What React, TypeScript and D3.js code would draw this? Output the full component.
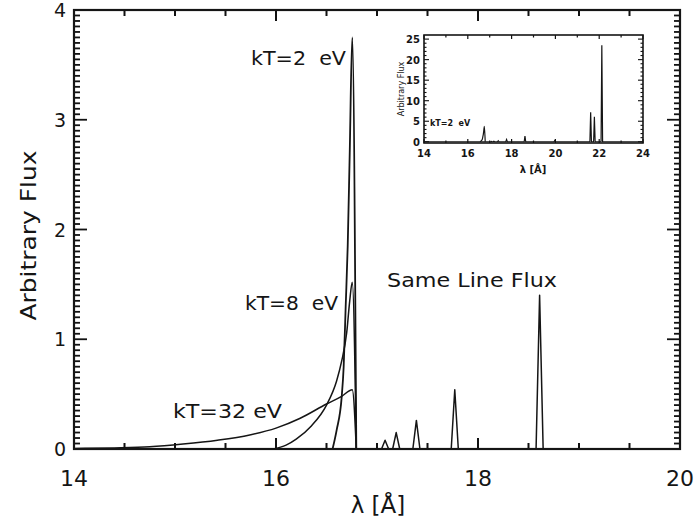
import React, { useEffect } from "react";
import * as d3 from "d3";

// Emission lines of the "same line flux" spectrum (wavelength in Å, peak flux)
const lineCenters = [17.08, 17.19, 17.39, 17.77, 18.61];
const lineHeights = [0.08, 0.15, 0.26, 0.54, 1.4];

// Extra lines only visible in the wide-range inset
const insetLineCenters = [19.97, 21.61, 21.78, 22.12];
const insetLineHeights = [0.3, 7.2, 6.1, 23.5];

// Recombination continua for three temperatures
const rrc2Lambda = [16.56, 16.6, 16.65, 16.67, 16.69, 16.71, 16.73, 16.755, 16.795];
const rrc2Flux = [0, 0.17, 0.47, 0.75, 1.3, 1.85, 2.7, 3.75, 0];

const rrc8Lambda = [15.97, 16.1, 16.2, 16.35, 16.5, 16.6, 16.65, 16.7, 16.73, 16.755, 16.795];
const rrc8Flux = [0, 0.035, 0.09, 0.21, 0.4, 0.62, 0.8, 1.06, 1.35, 1.52, 0];

const rrc32Lambda = [14.0, 14.4, 14.75, 15.08, 15.42, 15.74, 16.0, 16.24, 16.5, 16.65, 16.755, 16.795];
const rrc32Flux = [0.005, 0.01, 0.02, 0.045, 0.08, 0.128, 0.19, 0.28, 0.41, 0.48, 0.54, 0];

// Axis ticks
const xMajorTicks = [14, 16, 18, 20];
const yMajorTicks = [0, 1, 2, 3, 4];
const insetXTicks = [14, 16, 18, 20, 22, 24];
const insetYTicks = [0, 5, 10, 15, 20, 25];

const LINE_HALF_WIDTH = 0.035;
const INK = "#151515";
const FONT = "'DejaVu Sans', 'Liberation Sans', sans-serif";

function lineSpectrum(centers: number[], heights: number[], lo: number, hi: number) {
  const order = d3.range(centers.length).sort((a, b) => centers[a] - centers[b]);
  const pts: [number, number][] = [[lo, 0]];
  order.forEach((i) => {
    const c = centers[i];
    pts.push([c - LINE_HALF_WIDTH, 0], [c, heights[i]], [c + LINE_HALF_WIDTH, 0]);
  });
  pts.push([hi, 0]);
  return pts;
}

function zipPts(xs: number[], ys: number[]): [number, number][] {
  return xs.map((x, i) => [x, ys[i]]);
}

// tick marks drawn as small filled bars
type Bar = { x: number; y: number; w: number; h: number };
function vTick(px: number, y0: number, len: number, w: number): Bar {
  return { x: px - w / 2, y: len > 0 ? y0 : y0 + len, w, h: Math.abs(len) };
}
function hTick(py: number, x0: number, len: number, w: number): Bar {
  return { x: len > 0 ? x0 : x0 + len, y: py - w / 2, w: Math.abs(len), h: w };
}

export default function App() {
  useEffect(() => {
    document.body.style.margin = "0";
  }, []);

  const W = 694;
  const H = 522;
  const m = { left: 74, right: 680, top: 10, bottom: 449 };

  const x = d3.scaleLinear().domain([14, 20]).range([m.left, m.right]);
  const y = d3.scaleLinear().domain([0, 4]).range([m.bottom, m.top]);

  const lineGen = d3
    .line<[number, number]>()
    .x((d) => x(d[0]))
    .y((d) => y(d[1]));
  const smoothGen = d3
    .line<[number, number]>()
    .x((d) => x(d[0]))
    .y((d) => y(d[1]))
    .curve(d3.curveMonotoneX);

  const spectrum = lineSpectrum(lineCenters, lineHeights, 14, 20);

  const bars: Bar[] = [];
  d3.range(14, 20.001, 0.5).forEach((v) => {
    const major = xMajorTicks.some((t) => Math.abs(t - v) < 1e-6);
    const len = major ? 11 : 6;
    bars.push(vTick(x(v), m.bottom, -len, 2));
    bars.push(vTick(x(v), m.top, len, 2));
  });
  d3.range(0, 4.0001, 0.05).forEach((v) => {
    const major = Math.abs(v - Math.round(v)) < 1e-6;
    const len = major ? 13 : 6;
    bars.push(hTick(y(v), m.left, len, 1.8));
    bars.push(hTick(y(v), m.right, -len, 1.8));
  });

  // Inset panel
  const ins = { left: 424, right: 643, top: 35, bottom: 143 };
  const ix = d3.scaleLinear().domain([14, 24]).range([ins.left, ins.right]);
  const iy = d3.scaleLinear().domain([-0.3, 26]).range([ins.bottom, ins.top]);
  const iLine = d3
    .line<[number, number]>()
    .x((d) => ix(d[0]))
    .y((d) => iy(d[1]));
  const iSmooth = d3
    .line<[number, number]>()
    .x((d) => ix(d[0]))
    .y((d) => iy(d[1]))
    .curve(d3.curveMonotoneX);
  const insetSpectrum = lineSpectrum(
    [...lineCenters, ...insetLineCenters],
    [...lineHeights, ...insetLineHeights],
    14,
    24
  );

  d3.range(14, 24.001, 1).forEach((v) => {
    const len = insetXTicks.includes(v) ? 4 : 2.5;
    bars.push(vTick(ix(v), ins.bottom, -len, 1.2));
    bars.push(vTick(ix(v), ins.top, len, 1.2));
  });
  d3.range(0, 26, 1).forEach((v) => {
    const len = insetYTicks.includes(v) ? 5 : 2.5;
    bars.push(hTick(iy(v), ins.left, len, 1.1));
    bars.push(hTick(iy(v), ins.right, -len, 1.1));
  });

  return (
    <svg
      width={W}
      height={H}
      viewBox={`0 0 ${W} ${H}`}
      style={{ position: "absolute", left: 0, top: 0, background: "#fff" }}
      fontFamily={FONT}
    >
      <rect width={W} height={H} fill="#fff" />

      {/* spectra */}
      <g fill="none" stroke={INK} strokeWidth={1.5} strokeLinejoin="round">
        <path d={smoothGen(zipPts(rrc32Lambda, rrc32Flux)) ?? ""} />
        <path d={smoothGen(zipPts(rrc8Lambda, rrc8Flux)) ?? ""} />
        <path d={smoothGen(zipPts(rrc2Lambda, rrc2Flux)) ?? ""} strokeWidth={1.8} />
        <path d={lineGen(spectrum) ?? ""} />
      </g>

      {/* inset spectra */}
      <path d={iSmooth(zipPts(rrc2Lambda, rrc2Flux)) ?? ""} fill="none" stroke={INK} strokeWidth={1.2} />
      <path d={iLine(insetSpectrum) ?? ""} fill="none" stroke={INK} strokeWidth={1.2} />

      {/* tick marks */}
      {bars.map((b, i) => (
        <rect key={`tk${i}`} x={b.x} y={b.y} width={b.w} height={b.h} fill="#111" />
      ))}

      {/* frames */}
      <rect
        x={m.left}
        y={m.top}
        width={m.right - m.left}
        height={m.bottom - m.top}
        fill="none"
        stroke={INK}
        strokeWidth={2.2}
      />
      <rect
        x={ins.left}
        y={ins.top}
        width={ins.right - ins.left}
        height={ins.bottom - ins.top}
        fill="none"
        stroke={INK}
        strokeWidth={1.6}
      />

      {/* tick labels */}
      {xMajorTicks.map((v) => (
        <text key={`xlab${v}`} x={x(v)} y={m.bottom + 37} textAnchor="middle" fontSize={22} fill={INK}>
          {v}
        </text>
      ))}
      {yMajorTicks.map((v) => (
        <text key={`ylab${v}`} x={m.left - 8} y={y(v) + 7} textAnchor="end" fontSize={19} fill={INK}>
          {v}
        </text>
      ))}

      {/* axis titles */}
      <text x={378} y={513} fontSize={23} textAnchor="middle" fill={INK}>
        λ [Å]
      </text>
      <text
        transform={`translate(36,${(m.top + m.bottom) / 2 + 6}) rotate(-90)`}
        fontSize={21}
        textAnchor="middle"
        fill={INK}
        textLength={170}
        lengthAdjust="spacingAndGlyphs"
      >
        Arbitrary Flux
      </text>

      {/* annotations */}
      <text x={251} y={65} fontSize={20} fill={INK} xmlSpace="preserve" textLength={95} lengthAdjust="spacingAndGlyphs">
        {"kT=2  eV"}
      </text>
      <text x={245} y={310} fontSize={20} fill={INK} xmlSpace="preserve" textLength={93} lengthAdjust="spacingAndGlyphs">
        {"kT=8  eV"}
      </text>
      <text x={173} y={418} fontSize={20} fill={INK} xmlSpace="preserve" textLength={109} lengthAdjust="spacingAndGlyphs">
        {"kT=32 eV"}
      </text>
      <text x={387} y={287} fontSize={20} fill={INK} textLength={170} lengthAdjust="spacingAndGlyphs">
        Same Line Flux
      </text>

      {/* inset labels */}
      {insetXTicks.map((v) => (
        <text key={`ixl${v}`} x={ix(v)} y={ins.bottom + 14} textAnchor="middle" fontSize={10} fontWeight="bold" fill={INK}>
          {v}
        </text>
      ))}
      {insetYTicks.map((v) => (
        <text key={`iylab${v}`} x={ins.left - 4} y={iy(v) + 4} textAnchor="end" fontSize={10} fontWeight="bold" fill={INK}>
          {v}
        </text>
      ))}
      <text x={533} y={173} fontSize={10} fontWeight="bold" textAnchor="middle" fill={INK}>
        λ [Å]
      </text>
      <text
        transform={`translate(404,${(ins.top + ins.bottom) / 2}) rotate(-90)`}
        fontSize={8}
        textAnchor="middle"
        fill={INK}
      >
        Arbitrary Flux
      </text>
      <text x={430} y={126} fontSize={8} fontWeight="bold" fill={INK} xmlSpace="preserve">
        {"kT=2  eV"}
      </text>
    </svg>
  );
}
